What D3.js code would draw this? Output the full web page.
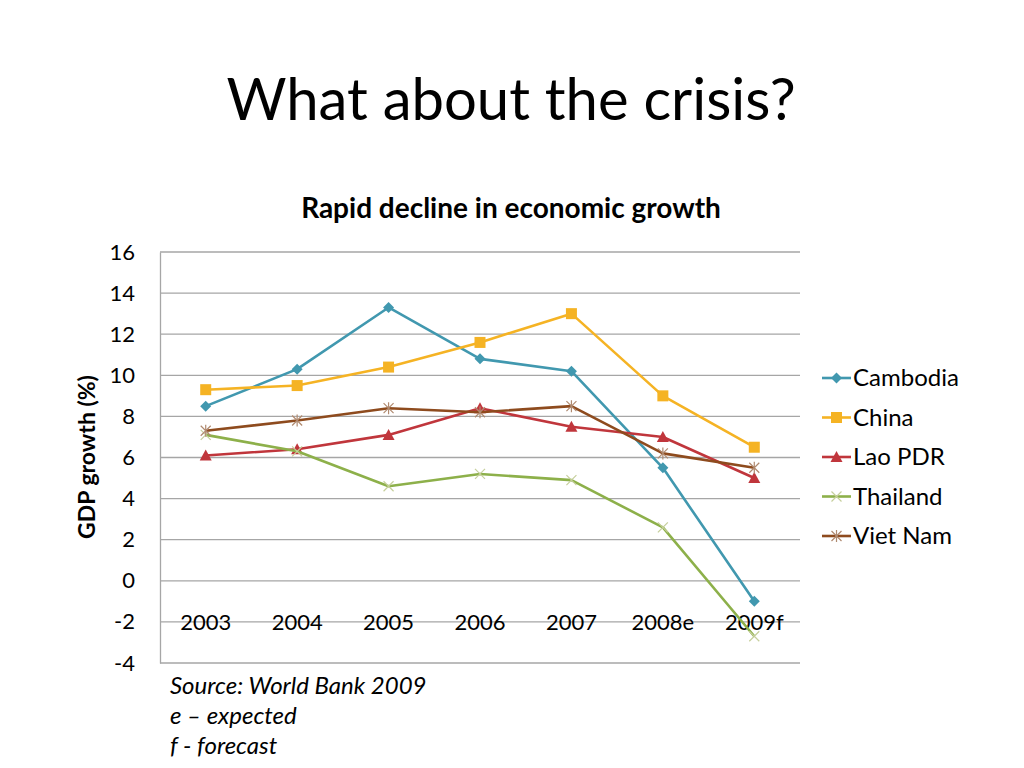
<!DOCTYPE html>
<html>
<head>
<meta charset="utf-8">
<script src="https://cdn.jsdelivr.net/npm/d3@7/dist/d3.min.js"></script>
<style>
  body { margin: 0; background: #fff; }
  svg { font-family: Lato, "Open Sans", sans-serif; }
</style>
</head>
<body>
<div class="d3-container"></div>
<script>
const categories = ["2003", "2004", "2005", "2006", "2007", "2008e", "2009f"];
const yTicks = [-4, -2, 0, 2, 4, 6, 8, 10, 12, 14, 16];

const cambodia = [8.5, 10.3, 13.3, 10.8, 10.2, 5.5, -1.0];
const china = [9.3, 9.5, 10.4, 11.6, 13.0, 9.0, 6.5];
const lao = [6.1, 6.4, 7.1, 8.4, 7.5, 7.0, 5.0];
const thailand = [7.1, 6.3, 4.6, 5.2, 4.9, 2.6, -2.7];
const vietnam = [7.3, 7.8, 8.4, 8.2, 8.5, 6.2, 5.5];

const seriesNames = ["Cambodia", "China", "Lao PDR", "Thailand", "Viet Nam"];
const seriesValues = [cambodia, china, lao, thailand, vietnam];
const seriesColors = ["#4198AF", "#F5B324", "#C0363C", "#8DB04A", "#8E4B1E"];
const seriesMarkers = ["diamond", "square", "triangle", "cross", "star"];

const sourceLines = ["Source: World Bank 2009", "e \u2013 expected", "f - forecast"];

const W = 1024, H = 768;
const plot = { left: 160, right: 800, top: 252, bottom: 663 };

const svg = d3.select(".d3-container").append("svg")
    .attr("width", W).attr("height", H);

svg.append("text").attr("x", 511).attr("y", 120)
    .attr("text-anchor", "middle").style("font-size", "58px").style("fill", "#000")
    .text("What about the crisis?");

svg.append("text").attr("x", 511).attr("y", 218)
    .attr("text-anchor", "middle").style("font-size", "28px").style("font-weight", "bold")
    .text("Rapid decline in economic growth");

const x = d3.scaleBand().domain(categories).range([plot.left, plot.right]);
const y = d3.scaleLinear().domain([-4, 16]).range([plot.bottom, plot.top]);

// gridlines
svg.append("g").selectAll("line").data(yTicks).join("line")
    .attr("x1", plot.left).attr("x2", plot.right)
    .attr("y1", d => y(d)).attr("y2", d => y(d))
    .style("stroke", "#a6a6a6").style("stroke-width", 1.3);

// y axis
const yAxis = svg.append("g").attr("transform", `translate(${plot.left},0)`)
    .call(d3.axisLeft(y).tickValues(yTicks).tickSize(0).tickPadding(25)
        .tickFormat(d => d < 0 ? "-" + Math.abs(d) : String(d)));
yAxis.select(".domain").style("stroke", "#a6a6a6").style("stroke-width", 1.3);
yAxis.selectAll("text").style("font-size", "22px").style("font-family", "Lato, sans-serif").style("fill", "#000");

// category axis at zero
const xAxis = svg.append("g").attr("transform", `translate(0,${y(0)})`)
    .call(d3.axisBottom(x).tickSize(0).tickPadding(49));
xAxis.select(".domain").remove();
xAxis.selectAll("text").style("font-size", "22px").style("font-family", "Lato, sans-serif").style("fill", "#000")
    .attr("dy", "0");

svg.append("text")
    .attr("transform", "translate(95,457) rotate(-90)")
    .attr("text-anchor", "middle").style("font-size", "23px").style("font-weight", "bold")
    .text("GDP growth (%)");

function drawMarker(g, type, color) {
    if (type === "diamond") {
        g.append("path").attr("d", "M0,-5.5L5.5,0L0,5.5L-5.5,0Z").style("fill", color);
    } else if (type === "square") {
        g.append("rect").attr("x", -5.5).attr("y", -5.5).attr("width", 11).attr("height", 11).style("fill", color);
    } else if (type === "triangle") {
        g.append("path").attr("d", "M0,-6L6,5L-6,5Z").style("fill", color);
    } else if (type === "cross") {
        g.append("path").attr("d", "M-5,-5L5,5M-5,5L5,-5").style("stroke", "#c6cf9c").style("stroke-width", 1.2).style("fill", "none");
    } else if (type === "star") {
        g.append("path").attr("d", "M-5,-5L5,5M-5,5L5,-5M0,-6L0,6").style("stroke", "#b08a70").style("stroke-width", 1.2).style("fill", "none");
    }
}

const line = d3.line().x((d, i) => x(categories[i]) + x.bandwidth() / 2).y(d => y(d));

seriesValues.forEach((vals, s) => {
    svg.append("path").datum(vals).attr("d", line)
        .style("fill", "none").style("stroke", seriesColors[s]).style("stroke-width", 2.6)
        .style("stroke-linejoin", "round");
    vals.forEach((v, i) => {
        const g = svg.append("g")
            .attr("transform", `translate(${x(categories[i]) + x.bandwidth() / 2},${y(v)})`);
        drawMarker(g, seriesMarkers[s], seriesColors[s]);
    });
});

// legend
const legend = svg.append("g");
seriesNames.forEach((name, s) => {
    const ly = 378 + s * 39.5;
    legend.append("line").attr("x1", 822).attr("x2", 851).attr("y1", ly).attr("y2", ly)
        .style("stroke", seriesColors[s]).style("stroke-width", 2.6);
    const g = legend.append("g").attr("transform", `translate(836.5,${ly})`);
    drawMarker(g, seriesMarkers[s], seriesColors[s]);
    legend.append("text").attr("x", 853).attr("y", ly + 8)
        .style("font-size", "24px").text(name);
});

svg.append("g").selectAll("text").data(sourceLines).join("text")
    .attr("x", 170).attr("y", (d, i) => 694 + i * 30)
    .style("font-size", "24px").style("font-style", "italic")
    .text(d => d);
</script>
</body>
</html>
